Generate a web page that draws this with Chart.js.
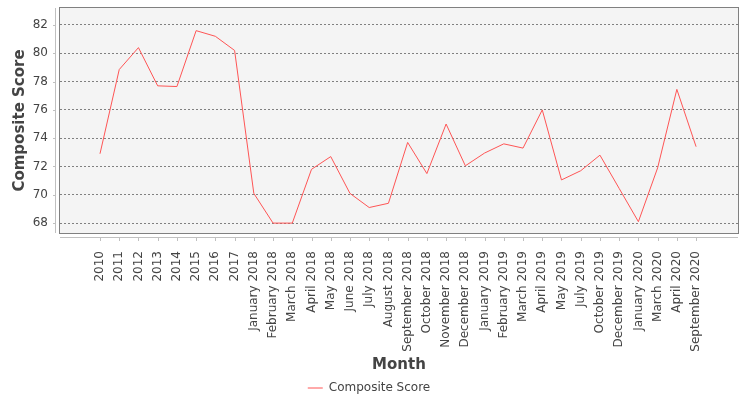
<!DOCTYPE html>
<html>
<head>
<meta charset="utf-8">
<script src="https://cdn.jsdelivr.net/npm/chart.js@4/dist/chart.umd.min.js"></script>
<style>
  html, body { margin: 0; padding: 0; background: #fff; }
  #wrap { width: 750px; height: 400px; }
</style>
</head>
<body>
<div id="wrap"><canvas id="chart" width="750" height="400"></canvas></div>
<script>
// ---------- data ----------
const months = ['2010', '2011', '2012', '2013', '2014', '2015', '2016', '2017',
  'January 2018', 'February 2018', 'March 2018', 'April 2018', 'May 2018', 'June 2018',
  'July 2018', 'August 2018', 'September 2018', 'October 2018', 'November 2018', 'December 2018',
  'January 2019', 'February 2019', 'March 2019', 'April 2019', 'May 2019', 'July 2019',
  'October 2019', 'December 2019', 'January 2020', 'March 2020', 'April 2020', 'September 2020'];
const scores = [72.9, 78.85, 80.4, 77.7, 77.65, 81.6, 81.2, 80.2,
  70.1, 68.0, 68.0, 71.8, 72.7, 70.1, 69.1, 69.4, 73.7, 71.5, 75.0, 72.05,
  72.95, 73.6, 73.3, 76.0, 71.05, 71.7, 72.8, 70.45, 68.1, 71.9, 77.45, 73.4];
const yTicks = [68, 70, 72, 74, 76, 78, 80, 82];
const seriesName = 'Composite Score';

Chart.defaults.font.family = "'DejaVu Sans', sans-serif";
Chart.defaults.color = '#444';

// plot background, border, offset axis lines and tick marks
const plotFrame = {
  id: 'plotFrame',
  beforeDraw(chart) {
    const { ctx, chartArea: a } = chart;
    ctx.save();
    ctx.fillStyle = '#f4f4f4';
    ctx.fillRect(a.left, a.top, a.right - a.left, a.bottom - a.top);
    ctx.restore();
  },
  afterDraw(chart) {
    const { ctx, chartArea: a, scales: { x, y } } = chart;
    ctx.save();
    ctx.lineWidth = 1;
    ctx.strokeStyle = '#808080';
    ctx.strokeRect(a.left - 0.5, a.top - 0.5, a.right - a.left + 1, a.bottom - a.top + 1);
    ctx.strokeStyle = '#c0c0c0';
    ctx.beginPath();
    ctx.moveTo(a.left - 4.5, a.top); ctx.lineTo(a.left - 4.5, a.bottom);
    ctx.moveTo(a.left, a.bottom + 4.5); ctx.lineTo(a.right, a.bottom + 4.5);
    y.ticks.forEach(t => {
      const py = Math.round(y.getPixelForValue(t.value)) + 0.5;
      ctx.moveTo(a.left - 7, py); ctx.lineTo(a.left - 4.5, py);
    });
    x.ticks.forEach(t => {
      const px = Math.round(x.getPixelForValue(t.value)) + 0.5;
      ctx.moveTo(px, a.bottom + 4.5); ctx.lineTo(px, a.bottom + 8);
    });
    ctx.stroke();
    ctx.restore();
  }
};

new Chart(document.getElementById('chart'), {
  type: 'line',
  data: {
    datasets: [{
      label: seriesName,
      data: scores.map((v, i) => ({ x: i, y: v })),
      borderColor: '#ff5555',
      backgroundColor: '#ff5555',
      borderWidth: 1,
      pointRadius: 0,
      tension: 0,
      fill: false
    }]
  },
  options: {
    responsive: false,
    animation: false,
    layout: { padding: { left: 0, right: 12, top: 8, bottom: -4 } },
    scales: {
      x: {
        type: 'linear',
        min: -2.08,
        max: 33.18,
        grid: { display: false },
        border: { display: false },
        afterBuildTicks: s => { s.ticks = months.map((m, i) => ({ value: i })); },
        afterFit: s => {
          s.height = s.chart.height + 4 - s.chart.legend.height - 233;
          s.paddingLeft = 0; s.paddingRight = 0;
        },
        ticks: {
          autoSkip: false, minRotation: 90, maxRotation: 90, padding: 10,
          font: { size: 12 }, color: '#444',
          callback: v => months[v]
        },
        title: { display: true, text: 'Month', color: '#444',
          font: { size: 15, weight: 'bold' }, padding: { top: 0, bottom: -2 } }
      },
      y: {
        min: 67.3,
        max: 83.2,
        afterBuildTicks: s => { s.ticks = yTicks.map(v => ({ value: v })); },
        afterFit: s => { s.width = 60; s.paddingTop = 0; s.paddingBottom = 0; },
        grid: { color: '#808080', lineWidth: 1, drawTicks: false, borderDash: [2, 2] },
        border: { display: false, dash: [2, 2] },
        ticks: { padding: 12, font: { size: 12 }, color: '#444' },
        title: { display: true, text: 'Composite Score', color: '#444',
          font: { size: 15, weight: 'bold' }, padding: { top: 11, bottom: 0 } }
      }
    },
    plugins: {
      legend: {
        position: 'bottom',
        labels: { usePointStyle: true, pointStyle: 'line', pointStyleWidth: 15,
          padding: 10, font: { size: 12 }, color: '#444' }
      },
      tooltip: { enabled: false }
    }
  },
  plugins: [plotFrame]
});
</script>
</body>
</html>
